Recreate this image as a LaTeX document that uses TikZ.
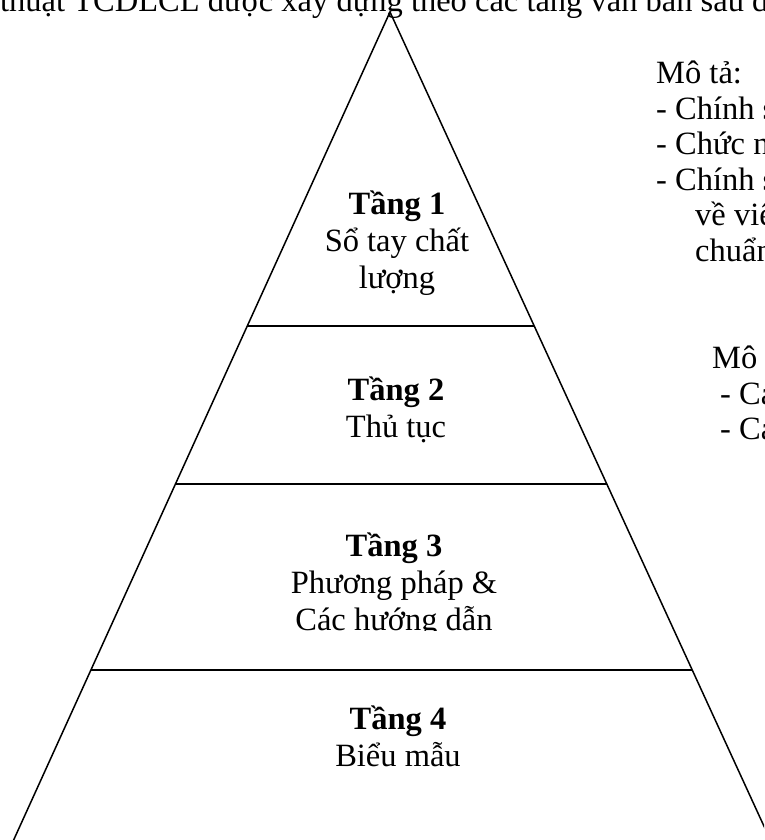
\documentclass[tikz,border=0pt]{standalone}
\usepackage{fontspec}
\setmainfont{Liberation Serif}
\usetikzlibrary{calc}
\tikzset{
  side/.style={line width=1.5pt},
  cut/.style={line width=2pt},
  tier/.style={align=center, inner sep=0pt, font=\fontsize{32.5}{37}\selectfont},
  desc/.style={align=left, anchor=north west, inner sep=0pt, font=\fontsize{32.5}{35.5}\selectfont},
}
\begin{document}
\begin{tikzpicture}[x=1pt, y=-1pt]
\useasboundingbox (0,0) rectangle (764,840);
\clip (0,0) rectangle (764,840);
\node[anchor=base west, inner sep=0pt, font=\fontsize{32.5}{37}\selectfont] (head) at (0,12) {thuật TCDLCL được xây dựng theo các tầng văn bản sau đây:};
% pyramid
\coordinate (top) at (390,12);
\coordinate (bl) at (10,848);
\coordinate (br) at (774,848);
\draw[side] (bl) -- (top) -- (br);
\foreach \t in {0.3756, 0.5646, 0.787}
  \draw[cut] ($(top)!\t!(bl)$) -- ($(top)!\t!(br)$);
% tiers
\node[tier] (t1) at (397,243) {\textbf{Tầng 1}\\Sổ tay chất\\lượng};
\node[tier] (t2) at (396,410) {\textbf{Tầng 2}\\Thủ tục};
\begin{scope}
  \clip (0,484) rectangle (764,630);
  \node[tier] (t3) at (394,585) {\textbf{Tầng 3}\\Phương pháp \&\\Các hướng dẫn};
\end{scope}
\node[tier] (t4) at (398,736) {\textbf{Tầng 4}\\Biểu mẫu};
% descriptions
\node[desc] (d1) at (656,61) {Mô tả:\\- Chính sách\\- Chức năng\\- Chính sách\\\hspace*{39pt}về việc\\\hspace*{39pt}chuẩn};
\node[desc] (d2) at (712,346) {Mô tả:\\\hspace*{8pt}- Các\\\hspace*{8pt}- Các};
\end{tikzpicture}
\end{document}
